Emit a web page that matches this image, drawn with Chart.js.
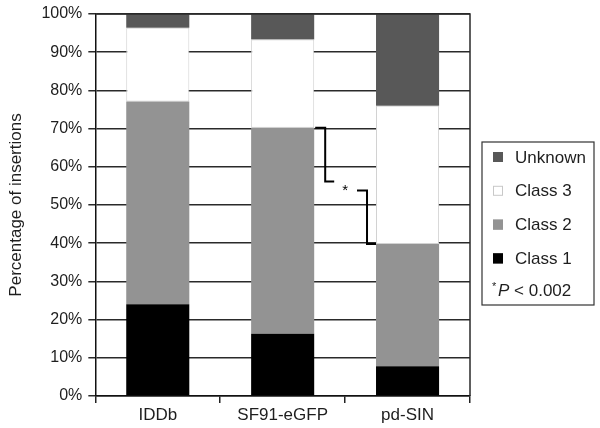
<!DOCTYPE html>
<html>
<head>
<meta charset="utf-8">
<script src="https://cdn.jsdelivr.net/npm/chart.js@4/dist/chart.umd.min.js"></script>
<style>
html,body{margin:0;padding:0;background:#fff;}
#wrap{width:600px;height:428px;position:relative;}
</style>
</head>
<body>
<div id="wrap"><canvas id="c"></canvas></div>
<script>
const categories = ["IDDb", "SF91-eGFP", "pd-SIN"];
const class1 = [24.0, 16.3, 7.8];
const class2 = [53.1, 53.9, 32.0];
const class3 = [19.3, 23.1, 36.2];
const unknown = [3.6, 6.7, 24.0];
const yTicks = [0, 10, 20, 30, 40, 50, 60, 70, 80, 90, 100];
const seriesNames = ["Class 1", "Class 2", "Class 3", "Unknown"];
const seriesColors = ["#000000", "#939393", "#ffffff", "#585858"];
const seriesBorders = ["#000000", "#939393", "#d2d2d2", "#585858"];
const pNote = "P < 0.002";

const FONT = "'Liberation Sans', Arial, Helvetica, sans-serif";
const TXT = "#1e1e1e";

const overlay = {
  id: 'overlay',
  afterDatasetsDraw(chart) {
    const ctx = chart.ctx;
    const a = chart.chartArea;
    const ys = chart.scales.y;
    ctx.save();
    ctx.strokeStyle = "#2a2a2a";
    ctx.lineWidth = 1.5;
    ctx.beginPath();
    ctx.moveTo(a.left, a.top); ctx.lineTo(a.right, a.top); ctx.lineTo(a.right, a.bottom);
    ctx.stroke();

    const m = chart.getDatasetMeta(1);
    const b1 = m.data[1], b2 = m.data[2];
    const r1 = b1.x + b1.width / 2;
    const l2 = b2.x - b2.width / 2;
    const yA = ys.getPixelForValue(class1[1] + class2[1]);
    const yB = ys.getPixelForValue(class1[2] + class2[2]);
    const mid = (yA + yB) / 2;
    ctx.strokeStyle = "#000";
    ctx.lineWidth = 2;
    ctx.beginPath();
    ctx.moveTo(r1 + 1, yA); ctx.lineTo(r1 + 11, yA); ctx.lineTo(r1 + 11, mid - 4.5); ctx.lineTo(r1 + 20, mid - 4.5);
    ctx.stroke();
    ctx.beginPath();
    ctx.moveTo(l2 - 19, mid + 4.5); ctx.lineTo(l2 - 9, mid + 4.5); ctx.lineTo(l2 - 9, yB); ctx.lineTo(l2, yB);
    ctx.stroke();
    ctx.fillStyle = "#000";
    ctx.font = "15px " + FONT;
    ctx.textAlign = "center";
    ctx.textBaseline = "middle";
    ctx.fillText("*", (r1 + l2) / 2, mid + 5);

    const lx = 482, ly = 142, lw = 112, lh = 163;
    ctx.fillStyle = "#fff";
    ctx.fillRect(lx, ly, lw, lh);
    ctx.strokeStyle = "#333";
    ctx.lineWidth = 1.2;
    ctx.strokeRect(lx, ly, lw, lh);
    ctx.textAlign = "left";
    ctx.font = "17px " + FONT;
    const rows = [3, 2, 1, 0];
    rows.forEach((si, k) => {
      const cy = 157 + k * 33.8;
      ctx.fillStyle = seriesColors[si];
      ctx.fillRect(493, cy - 5, 10, 10);
      ctx.strokeStyle = si === 2 ? "#c8c8c8" : seriesBorders[si];
      ctx.lineWidth = 1;
      ctx.strokeRect(493.5, cy - 4.5, 9, 9);
      ctx.fillStyle = TXT;
      ctx.fillText(seriesNames[si], 515, cy + 1);
    });
    const py = 291;
    ctx.font = "11px " + FONT;
    ctx.fillStyle = TXT;
    ctx.fillText("*", 492, py - 4);
    ctx.font = "italic 17px " + FONT;
    ctx.fillText("P", 498, py);
    const pw = ctx.measureText("P").width;
    ctx.font = "17px " + FONT;
    ctx.fillText(pNote.slice(1), 498 + pw, py);
    ctx.restore();
  }
};

const datasets = [class1, class2, class3, unknown].map((d, i) => ({
  label: seriesNames[i],
  data: d,
  backgroundColor: seriesColors[i],
  borderColor: seriesBorders[i],
  borderWidth: i === 2 ? 1 : 0,
  borderSkipped: false,
  barPercentage: 0.505,
  categoryPercentage: 1.0
}));

new Chart(document.getElementById('c'), {
  type: 'bar',
  data: { labels: categories, datasets },
  options: {
    responsive: true,
    maintainAspectRatio: false,
    animation: false,
    layout: { padding: { top: 0, right: 130, left: 6, bottom: 0 } },
    plugins: { legend: { display: false }, tooltip: { enabled: false } },
    scales: {
      x: {
        stacked: true,
        grid: { display: true, drawOnChartArea: false, offset: true, color: "#222", lineWidth: 1.5, tickLength: 7 },
        border: { display: true, color: "#111", width: 1.5 },
        ticks: { color: TXT, font: { family: FONT, size: 17, lineHeight: 1.0 }, padding: 4 }
      },
      y: {
        stacked: true,
        min: 0, max: 100,
        afterBuildTicks: (axis) => { axis.ticks = yTicks.map(v => ({ value: v })); },
        grid: { color: "#2a2a2a", lineWidth: 1.5, tickLength: 7 },
        border: { display: true, color: "#111", width: 1.5 },
        ticks: { color: TXT, font: { family: FONT, size: 16, lineHeight: 1.0 }, padding: 6, callback: v => v + "%" },
        title: { display: true, text: "Percentage of insertions", color: TXT, font: { family: FONT, size: 17 }, padding: { top: 0, bottom: 9 } }
      }
    }
  },
  plugins: [overlay]
});
</script>
</body>
</html>
